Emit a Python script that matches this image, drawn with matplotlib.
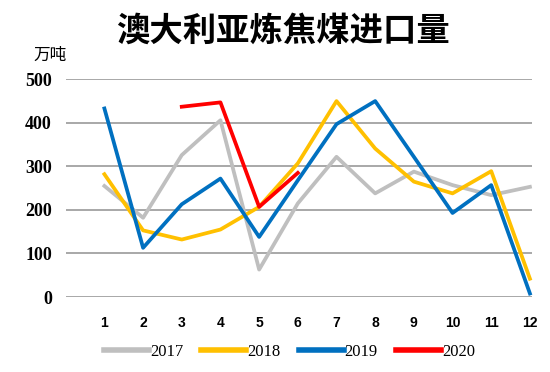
import matplotlib.pyplot as plt
import numpy as np

plt.rcParams['font.family'] = ['Noto Sans CJK SC', 'DejaVu Sans']

# monthly imports, 10k tonnes
months = np.arange(1, 13)
v2017 = [255, 182, 326, 406, 63, 215, 322, 238, 288, 257, 234, 253]
v2018 = [282, 153, 132, 155, 207, 307, 450, 341, 265, 238, 289, 42]
v2019 = [433, 113, 213, 272, 138, 268, 397, 450, 322, 193, 257, 8]
v2020 = [437, 447, 207, 285]
months_2020 = [3, 4, 5, 6]
yticks = [0, 100, 200, 300, 400, 500]

fig = plt.figure(figsize=(5.5, 3.72), dpi=100)
ax = fig.add_axes([0.1195, 0.2016, 0.8475, 0.5852])

lw = 2.7
ax.plot(months, v2017, color='#BFBFBF', lw=lw, label='2017', clip_on=False)
ax.plot(months, v2018, color='#FFC000', lw=lw, label='2018', clip_on=False)
ax.plot(months, v2019, color='#0070C0', lw=lw, label='2019', clip_on=False)
ax.plot(months_2020, v2020, color='#FF0000', lw=lw, label='2020', clip_on=False)

ax.set_xlim(0, 12.05)
ax.set_ylim(0, 500)
ax.set_yticks(yticks)
ax.set_yticklabels([str(t) for t in yticks], family='Liberation Serif',
                   fontweight='bold', fontsize=13)
ax.set_xticks(months)
ax.set_xticklabels([str(m) for m in months], family='Liberation Sans',
                   fontweight='bold', fontsize=10)
ax.tick_params(length=0)
ax.tick_params(axis='y', pad=10)
ax.tick_params(axis='x', pad=14)
ax.grid(axis='y', color='#999999', lw=1.2)
ax.set_axisbelow(True)
for s in ax.spines.values():
    s.set_visible(False)

fig.text(0.515, 0.915, '澳大利亚炼焦煤进口量', ha='center', va='center',
         fontsize=24, fontweight='bold')
fig.text(0.091, 0.852, '万吨', ha='center', va='center', fontsize=12)

leg = ax.legend(loc='upper center', bbox_to_anchor=(0.48, -0.145), ncol=4,
                frameon=False, handlelength=2.7, handletextpad=0.05,
                columnspacing=1.1, prop={'family': 'Liberation Serif', 'size': 12})
for line in leg.get_lines():
    line.set_linewidth(4)

fig.savefig('out.png', dpi=100)
